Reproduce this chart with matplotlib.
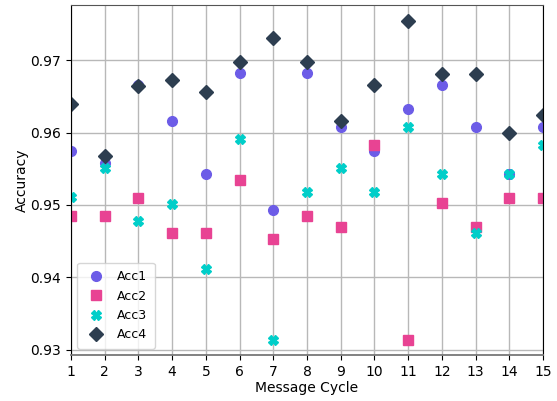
import numpy as np
import matplotlib.pyplot as plt

# -----------------------------
# Data
# -----------------------------
cycles = list(range(1, 16))

acc1 = [0.9575, 0.9558, 0.9665, 0.9616, 0.9543, 0.9682, 0.9493, 0.9682,
        0.9608, 0.9574, 0.9632, 0.9665, 0.9608, 0.9543, 0.9608]
acc2 = [0.9485, 0.9485, 0.9510, 0.9461, 0.9461, 0.9534, 0.9453, 0.9485,
        0.9469, 0.9583, 0.9314, 0.9502, 0.9469, 0.9510, 0.9510]
acc3 = [0.9511, 0.9551, 0.9478, 0.9501, 0.9412, 0.9591, 0.9314, 0.9518,
        0.9551, 0.9518, 0.9608, 0.9543, 0.9461, 0.9543, 0.9583]
acc4 = [0.9640, 0.9567, 0.9664, 0.9672, 0.9656, 0.9697, 0.9730, 0.9697,
        0.9616, 0.9665, 0.9754, 0.9681, 0.9681, 0.9599, 0.9624]

fig = plt.figure(figsize=(5.57, 4.01), dpi=100)
ax = fig.add_axes([0.1275, 0.115, 0.8475, 0.8725])

ax.plot(cycles, acc1, "o", color="#6c5ce7", markersize=7, label="Acc1")
ax.plot(cycles, acc2, "s", color="#e84393", markersize=7, label="Acc2")
ax.plot(cycles, acc3, "X", color="#00cec9", markersize=7, label="Acc3")
ax.plot(cycles, acc4, "D", color="#2d3e50", markersize=7, label="Acc4")

ax.set_xlim(1, 15)
ax.set_ylim(0.9293, 0.9776)
ax.set_xticks(cycles)
ax.set_yticks([0.93, 0.94, 0.95, 0.96, 0.97])
ax.grid(True, color="#b8b8b8", linewidth=1)
ax.set_axisbelow(True)
ax.spines["top"].set_color("#555555")
ax.spines["bottom"].set_color("#777777")
ax.spines["bottom"].set_linewidth(1.3)

ax.set_xlabel("Message Cycle", labelpad=2)
ax.set_ylabel("Accuracy", labelpad=1)
ax.legend(loc="lower left", fontsize=9, borderpad=0.6, handlelength=1.8)

fig.savefig("out.png", dpi=100)
